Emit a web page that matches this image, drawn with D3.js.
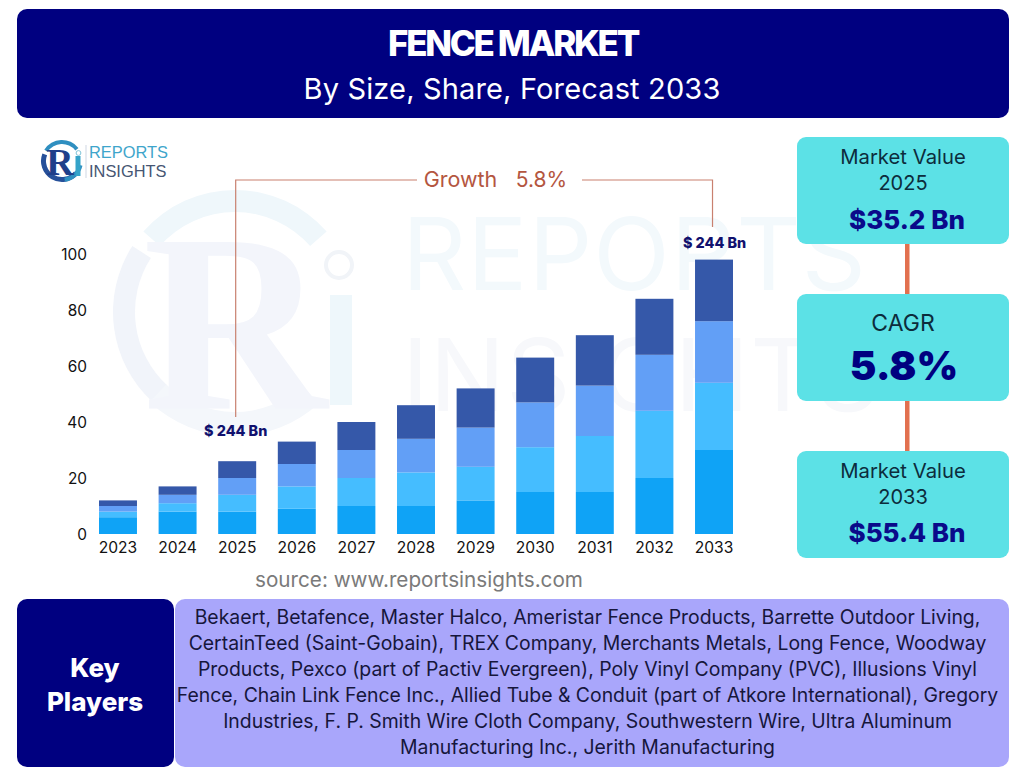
<!DOCTYPE html>
<html>
<head>
<meta charset="utf-8">
<script src="https://cdn.jsdelivr.net/npm/d3@7"></script>
<style>
  html, body { margin: 0; padding: 0; background: #fff; }
  svg { display: block; font-family: Inter, "Noto Sans", sans-serif; }
</style>
</head>
<body>
<svg id="chart" width="1024" height="768"></svg>
<script>
const years = ["2023","2024","2025","2026","2027","2028","2029","2030","2031","2032","2033"];
const seriesKeys = ["s1","s2","s3","s4"];
const s1 = [6,8,8,9,10,10,12,15,15,20,30];
const s2 = [2,3,6,8,10,12,12,16,20,24,24];
const s3 = [2,3,6,8,10,12,14,16,18,20,22];
const s4 = [2,3,6,8,10,12,14,16,18,20,22];
const yTicks = [0,20,40,60,80,100];
const seriesColors = ["#0fa3f6","#45bdff","#629ff6","#3558a9"];

const playerLines = [
  "Bekaert, Betafence, Master Halco, Ameristar Fence Products, Barrette Outdoor Living,",
  "CertainTeed (Saint-Gobain), TREX Company, Merchants Metals, Long Fence, Woodway",
  "Products, Pexco (part of Pactiv Evergreen), Poly Vinyl Company (PVC), Illusions Vinyl",
  "Fence, Chain Link Fence Inc., Allied Tube & Conduit (part of Atkore International), Gregory",
  "Industries, F. P. Smith Wire Cloth Company, Southwestern Wire, Ultra Aluminum",
  "Manufacturing Inc., Jerith Manufacturing"
];

const svg = d3.select("#chart");
const NAVY = "#000080";

const addText = (parent, str, x, y, size, opts) => {
  opts = opts || {};
  return parent.append("text")
    .attr("x", x).attr("y", y)
    .attr("text-anchor", opts.anchor || "middle")
    .attr("dominant-baseline", "central")
    .attr("font-size", size)
    .attr("font-weight", opts.weight || 400)
    .attr("font-family", opts.family || null)
    .attr("letter-spacing", opts.spacing || null)
    .attr("fill", opts.fill || "#000")
    .text(str);
};

// watermark behind the chart
const wm = svg.append("g");
const wmArc = d3.arc();
wm.append("path").attr("transform", "translate(235,312)")
  .attr("d", wmArc({innerRadius: 100, outerRadius: 122, startAngle: -0.85, endAngle: 0.85}))
  .attr("fill", "#eff7fb");
wm.append("path").attr("transform", "translate(235,312)")
  .attr("d", wmArc({innerRadius: 100, outerRadius: 122, startAngle: -2.4, endAngle: -1.0}))
  .attr("fill", "#f1f4fa");
wm.append("path").attr("transform", "translate(235,312)")
  .attr("d", wmArc({innerRadius: 100, outerRadius: 124, startAngle: 2.4, endAngle: 3.9}))
  .attr("fill", "#f4f7fb");
addText(wm, "R", 235, 323, 255, {family: "Liberation Serif", weight: 700, fill: "#f3f5fb"});
wm.append("rect").attr("x", 330).attr("y", 295).attr("width", 22).attr("height", 110).attr("fill", "#eef7fb");
wm.append("circle").attr("cx", 339).attr("cy", 265).attr("r", 13)
  .attr("fill", "none").attr("stroke", "#f1f4f8").attr("stroke-width", 4);
addText(wm, "REPORTS", 402, 253, 100, {anchor: "start", fill: "#f3f9fc", spacing: 1});
addText(wm, "INSIGHTS", 402, 374, 100, {anchor: "start", fill: "#f7f8fb", spacing: 1});

// title banner
svg.append("rect").attr("x", 17).attr("y", 9).attr("width", 992).attr("height", 109).attr("rx", 10).attr("fill", NAVY);
addText(svg, "FENCE MARKET", 513, 43, 35, {weight: 800, fill: "#fff", spacing: -2.3});
addText(svg, "By Size, Share, Forecast 2033", 512, 88, 29, {fill: "#fff", spacing: 0.15});

// small logo
const logo = svg.append("g");
const logoArc = d3.arc();
logo.append("path").attr("transform", "translate(62,161)")
  .attr("d", logoArc({innerRadius: 17, outerRadius: 21, startAngle: -1.0, endAngle: 0.9}))
  .attr("fill", "#2f8fc0");
logo.append("path").attr("transform", "translate(62,161)")
  .attr("d", logoArc({innerRadius: 16, outerRadius: 21, startAngle: -4.0, endAngle: -1.2}))
  .attr("fill", "#26509a");
logo.append("path").attr("transform", "translate(62,161)")
  .attr("d", logoArc({innerRadius: 17, outerRadius: 21, startAngle: 1.8, endAngle: 3.0}))
  .attr("fill", "#2f8fc0");
addText(logo, "R", 60, 162, 38, {family: "Liberation Serif", weight: 700, fill: "#1f3f8a"});
logo.append("rect").attr("x", 75.5).attr("y", 156).attr("width", 5).attr("height", 20).attr("fill", "#35a3c9");
logo.append("circle").attr("cx", 78.5).attr("cy", 153).attr("r", 2.4).attr("fill", "#fff").attr("stroke", "#7fc4d8");
logo.append("rect").attr("x", 85.5).attr("y", 145).attr("width", 1).attr("height", 33).attr("fill", "#cfd8e4");
addText(logo, "REPORTS", 89, 151.5, 16.4, {anchor: "start", fill: "#3ea5cb", family: "Liberation Sans"});
addText(logo, "INSIGHTS", 89, 171, 16.4, {anchor: "start", fill: "#465673", family: "Liberation Sans"});

// stacked bars
const rows = years.map((y, i) => ({year: y, s1: s1[i], s2: s2[i], s3: s3[i], s4: s4[i]}));
const stacked = d3.stack().keys(seriesKeys)(rows);

const x = d3.scaleBand().domain(years).range([99, 733]).paddingInner(0.363).paddingOuter(0);
const y = d3.scaleLinear().domain([0, 100]).range([534, 254]);

svg.append("g").selectAll("g")
  .data(stacked)
  .join("g")
  .attr("fill", (d, i) => seriesColors[i])
  .selectAll("rect")
  .data(d => d)
  .join("rect")
  .attr("x", d => x(d.data.year))
  .attr("y", d => y(d[1]))
  .attr("width", x.bandwidth())
  .attr("height", d => y(d[0]) - y(d[1]));

// axes
const yAxis = svg.append("g").attr("transform", "translate(87,1)")
  .call(d3.axisLeft(y).tickValues(yTicks).tickSize(0).tickPadding(0));
yAxis.select(".domain").remove();
yAxis.selectAll("text").attr("font-size", 15.4).attr("font-family", "Inter").attr("fill", "#111");

const xAxis = svg.append("g").attr("transform", "translate(0,534)")
  .call(d3.axisBottom(x).tickSize(0).tickPadding(8));
xAxis.select(".domain").remove();
xAxis.selectAll("text").attr("font-size", 15.6).attr("font-family", "Inter").attr("fill", "#111");

// growth annotation
const cx25 = x("2025") + x.bandwidth() / 2 - 1.5;
const cx33 = x("2033") + x.bandwidth() / 2 - 1.5;
const growthLine = d3.line();
svg.append("path").attr("d", growthLine([[cx25, 417], [cx25, 180], [417, 180]]))
  .attr("fill", "none").attr("stroke", "#c9806f").attr("stroke-width", 1.2);
svg.append("path").attr("d", growthLine([[582, 180], [cx33, 180], [cx33, 227]]))
  .attr("fill", "none").attr("stroke", "#c9806f").attr("stroke-width", 1.2);
addText(svg, "Growth", 460.5, 179, 21.5, {fill: "#b4563f"});
addText(svg, "5.8%", 541.5, 179, 21, {fill: "#b4563f"});
addText(svg, "$ 244 Bn", cx25, 430, 14.4, {weight: 800, fill: "#11116e"});
addText(svg, "$ 244 Bn", cx33 + 2, 242, 14.4, {weight: 800, fill: "#11116e"});

addText(svg, "source: www.reportsinsights.com", 419, 579, 20.7, {fill: "#7a7a7a"});

// right column
svg.append("rect").attr("x", 905).attr("y", 243).attr("width", 4.5).attr("height", 52).attr("fill", "#e2714f");
svg.append("rect").attr("x", 905).attr("y", 400).attr("width", 4.5).attr("height", 52).attr("fill", "#e2714f");
[137, 294, 451].forEach(top => {
  svg.append("rect").attr("x", 797).attr("y", top).attr("width", 212).attr("height", 107).attr("rx", 9).attr("fill", "#5ce1e6");
});
addText(svg, "Market Value", 903, 156, 20.3, {fill: "#0c2c3c"});
addText(svg, "2025", 903, 183, 20, {fill: "#0c2c3c"});
addText(svg, "$35.2 Bn", 907, 219, 26, {weight: 800, fill: "#0a0a8a"});
addText(svg, "CAGR", 903, 323, 23, {fill: "#0c2c3c"});
addText(svg, "5.8%", 904, 365, 40, {weight: 900, fill: "#000080"});
addText(svg, "Market Value", 903, 470, 20.3, {fill: "#0c2c3c"});
addText(svg, "2033", 903, 497, 20, {fill: "#0c2c3c"});
addText(svg, "$55.4 Bn", 907, 532, 26, {weight: 800, fill: "#0a0a8a"});

// key players
svg.append("rect").attr("x", 17).attr("y", 599).attr("width", 157).attr("height", 168).attr("rx", 10).attr("fill", NAVY);
svg.append("rect").attr("x", 175).attr("y", 599).attr("width", 834).attr("height", 168).attr("rx", 10).attr("fill", "#a9a6fb");
addText(svg, "Key", 95, 667, 26, {weight: 800, fill: "#fff"});
addText(svg, "Players", 95, 701, 26, {weight: 800, fill: "#fff"});
playerLines.forEach((line, i) => {
  addText(svg, line, 587.5, 617 + i * 26, 19.4, {fill: "#16163c"});
});
</script>
</body>
</html>
